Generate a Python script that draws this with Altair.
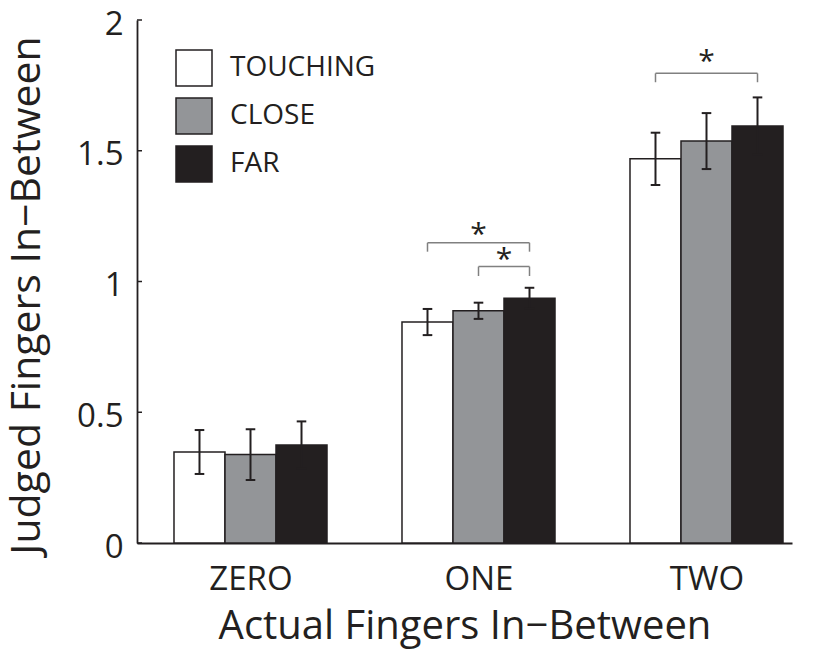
import altair as alt
import pandas as pd

# ---------------- data ----------------
groups = ["ZERO", "ONE", "TWO"]
conditions = ["TOUCHING", "CLOSE", "FAR"]

touching = [0.348, 0.845, 1.469]
close = [0.338, 0.888, 1.537]
far = [0.375, 0.936, 1.595]

touching_err = [0.084, 0.050, 0.100]
close_err = [0.097, 0.031, 0.107]
far_err = [0.090, 0.040, 0.109]

# significance brackets
bracket_group = ["ONE", "ONE", "TWO"]
bracket_from = ["TOUCHING", "CLOSE", "TOUCHING"]
bracket_to = ["FAR", "FAR", "FAR"]
bracket_y = [1.148, 1.057, 1.796]
bracket_leg = [1.114, 1.021, 1.762]
star_y = [1.197, 1.101, 1.860]

y_ticks = [0, 0.5, 1, 1.5, 2]

# ---------------- styling constants ----------------
BAR_W = 0.2237      # bar width in group units
CAP = 0.021         # half width of error-bar caps
FONT = "Open Sans"
INK = "#231f20"
fills = ["#ffffff", "#939598", "#231f20"]

# ---------------- tables ----------------
means = {"TOUCHING": touching, "CLOSE": close, "FAR": far}
errs = {"TOUCHING": touching_err, "CLOSE": close_err, "FAR": far_err}


def xpos(g, c):
    return groups.index(g) + (conditions.index(c) - 1) * BAR_W


rows = []
for g_i, g in enumerate(groups):
    for c in conditions:
        m = means[c][g_i]
        e = errs[c][g_i]
        xc = xpos(g, c)
        rows.append(dict(group=g, condition=c, mean=m, lo=m - e, hi=m + e,
                         xc=xc, x0=xc - BAR_W / 2, x1=xc + BAR_W / 2,
                         c0=xc - CAP, c1=xc + CAP))
bars_df = pd.DataFrame(rows)

caps_df = pd.concat([
    bars_df[["c0", "c1", "hi"]].rename(columns={"hi": "yv"}),
    bars_df[["c0", "c1", "lo"]].rename(columns={"lo": "yv"}),
])

segs = []
stars = []
for g, a, b, yb, yl, ys in zip(bracket_group, bracket_from, bracket_to,
                                bracket_y, bracket_leg, star_y):
    xa, xb = xpos(g, a), xpos(g, b)
    segs.append(dict(xs=xa, xe=xa, ys=yl, ye=yb))
    segs.append(dict(xs=xa, xe=xb, ys=yb, ye=yb))
    segs.append(dict(xs=xb, xe=xb, ys=yb, ye=yl))
    stars.append(dict(x=(xa + xb) / 2, y=ys, t="*"))
segs_df = pd.DataFrame(segs)
stars_df = pd.DataFrame(stars)
ticks_df = pd.DataFrame({"t": y_ticks})

# ---------------- scales & axes ----------------
xscale = alt.Scale(domain=[-0.4978, 2.375], nice=False, zero=False)
yscale = alt.Scale(domain=[0, 2], nice=False, zero=True)

label_expr = f"{groups}[datum.value]"
xaxis = alt.Axis(values=[0, 1, 2], labelExpr=label_expr,
                 title="Actual Fingers In\u2212Between")
yaxis = alt.Axis(values=y_ticks, format="~g",
                 title="Judged Fingers In\u2212Between")

bars = alt.Chart(bars_df).mark_bar(stroke=INK, strokeWidth=1.5).encode(
    x=alt.X("x0:Q", scale=xscale, axis=xaxis),
    x2="x1:Q",
    y=alt.Y("mean:Q", scale=yscale, axis=yaxis),
    y2=alt.datum(0),
    fill=alt.Color("condition:N",
                   scale=alt.Scale(domain=conditions, range=fills),
                   legend=alt.Legend(orient="none", legendX=38, legendY=29,
                                     title=None, padding=0,
                                     symbolType="square", symbolSize=1296,
                                     symbolStrokeColor=INK,
                                     symbolStrokeWidth=1.5,
                                     labelFont=FONT, labelFontSize=28,
                                     labelColor=INK, labelOffset=17,
                                     rowPadding=6)),
)

err_lines = alt.Chart(bars_df).mark_rule(color=INK, strokeWidth=2).encode(
    x=alt.X("xc:Q", scale=xscale, axis=xaxis),
    y=alt.Y("lo:Q", scale=yscale, axis=yaxis),
    y2="hi:Q",
)

err_caps = alt.Chart(caps_df).mark_rule(color=INK, strokeWidth=2).encode(
    x=alt.X("c0:Q", scale=xscale, axis=xaxis),
    x2="c1:Q",
    y=alt.Y("yv:Q", scale=yscale, axis=yaxis),
)

brackets = alt.Chart(segs_df).mark_rule(color="#808080", strokeWidth=1.5).encode(
    x=alt.X("xs:Q", scale=xscale, axis=xaxis),
    x2="xe:Q",
    y=alt.Y("ys:Q", scale=yscale, axis=yaxis),
    y2="ye:Q",
)

star_text = alt.Chart(stars_df).mark_text(
    font=FONT, fontSize=30, color=INK, baseline="middle", dy=5
).encode(
    x=alt.X("x:Q", scale=xscale, axis=xaxis),
    y=alt.Y("y:Q", scale=yscale, axis=yaxis),
    text="t:N",
)

inner_ticks = alt.Chart(ticks_df).mark_rule(color=INK, strokeWidth=1.5).encode(
    x=alt.value(0),
    x2=alt.value(5),
    y=alt.Y("t:Q", scale=yscale, axis=yaxis),
)

chart = alt.layer(bars, err_lines, err_caps, brackets, star_text, inner_ticks).properties(
    width=655,
    height=523,
    autosize=alt.AutoSizeParams(type="none"),
    padding={"left": 129, "top": 12, "right": 5, "bottom": 106},
).configure_view(
    stroke=None
).configure_axis(
    grid=False,
    ticks=False,
    tickSize=0,
    domainColor=INK,
    domainWidth=1.8,
    labelFont=FONT,
    labelColor=INK,
    titleFont=FONT,
    titleColor=INK,
    titleFontWeight="normal",
).configure_axisX(
    labelFontSize=33,
    labelPadding=20,
    titlePadding=10,
    titleFontSize=40,
).configure_axisY(
    labelFontSize=33,
    labelPadding=14,
    labelOffset=4,
    titlePadding=28,
    titleFontSize=41,
    titleY=275,
)

chart.save("out.html", embed_options={"renderer": "svg", "actions": False})
